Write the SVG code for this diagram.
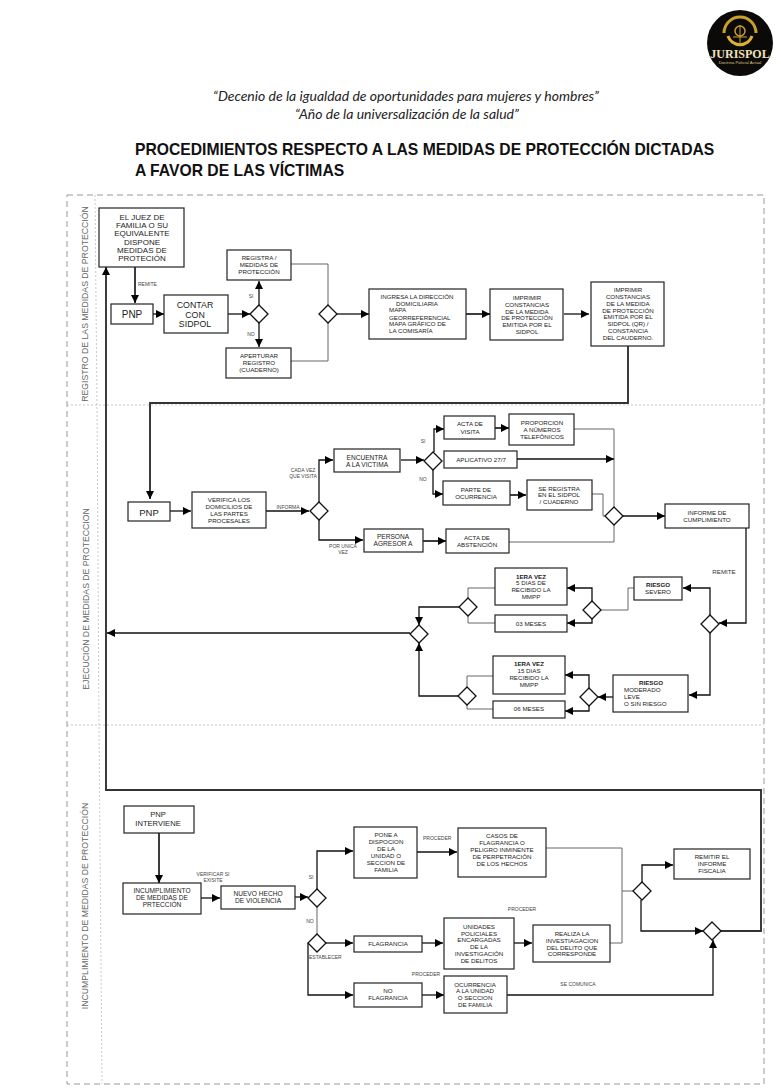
<svg xmlns="http://www.w3.org/2000/svg" width="781" height="1091" viewBox="0 0 781 1091">
<style>
text{font-family:"Liberation Sans",Arial,sans-serif;fill:#222;text-anchor:middle}
.b{fill:#fff;stroke:#222;stroke-width:1.2}
.d{fill:#fff;stroke:#111;stroke-width:1.3}
.c{fill:none;stroke:#111;stroke-width:1.3;marker-end:url(#a)}
.k{fill:none;stroke:#333;stroke-width:1.9;marker-end:url(#a)}
.g{fill:none;stroke:#666;stroke-width:1}
.s5{font-size:6.200px}.s6{font-size:6.600px}.s7{font-size:7.600px}
.l{font-size:5px;fill:#444}
.bo{font-weight:bold}
.lane{font-size:8.700px;fill:#666}
.st{text-anchor:start}
.o{fill:none;stroke:#999;stroke-width:1;stroke-dasharray:6 4}
.i{fill:none;stroke:#bbb;stroke-width:.8;stroke-dasharray:2 2}
.h{font-family:"Lato","Liberation Sans",sans-serif;font-style:italic;font-size:14px;fill:#222}
.t{font-size:15.700px;font-weight:bold;fill:#111;text-anchor:start}
</style>
<defs>
<marker id="a" markerUnits="userSpaceOnUse" markerWidth="9" markerHeight="8" refX="8" refY="4" orient="auto"><path d="M0 0L8 4L0 8Z" fill="#000"/></marker>
</defs>
<rect width="781" height="1091" fill="#fff"/>

<g id="logo">
<circle cx="740" cy="43" r="33" fill="#0c0a08"/>
<path d="M724 33A16 16 0 0 1 756 33" fill="none" stroke="#c9a02c" stroke-width="3"/>
<path d="M728 36A12.500 12 0 0 0 752 36" fill="none" stroke="#d9b23a" stroke-width="3"/>
<circle cx="740" cy="31" r="5" fill="none" stroke="#c9a02c" stroke-width="1.500"/>
<path d="M740 25V44M733 37H747" stroke="#c9a02c" stroke-width="1"/>
<text x="740" y="58" style="font-family:'Liberation Serif',serif;font-size:12px;font-weight:bold;fill:#efe3bd">JURISPOL</text>
<text x="740" y="64" style="font-size:4.200px;fill:#d9c688">Doctrina Policial Actual</text>
</g>

<g id="header">
<text class="h" x="406" y="101">“Decenio de la igualdad de oportunidades para mujeres y hombres”</text>
<text class="h" x="407" y="119">“Año de la universalización de la salud”</text>
<text class="t" x="135" y="155">PROCEDIMIENTOS RESPECTO A LAS MEDIDAS DE PROTECCIÓN DICTADAS</text>
<text class="t" x="135" y="176">A FAVOR DE LAS VÍCTIMAS</text>
</g>

<g id="lanes">
<rect class="o" x="67" y="195" width="697" height="889"/>
<path class="i" d="M95 195L97 405L99 725L102 1084M67 405H764M67 725H764"/>
<text class="lane" transform="translate(88 304) rotate(-90)">REGISTRO DE LAS MEDIDAS DE PROTECCIÓN</text>
<text class="lane" transform="translate(89 599) rotate(-90)">EJECUCIÓN DE MEDIDAS DE PROTECCION</text>
<text class="lane" transform="translate(88 906) rotate(-90)">INCUMPLIMIENTO DE MEDIDAS DE PROTECCIÓN</text>
</g>

<g id="connectors">
<path class="k" d="M135 267V303"/>
<path class="c" d="M153 314H164"/>
<path class="c" d="M228 314H250"/>
<path class="c" d="M259 305V281"/>
<path class="c" d="M259 323V347"/>
<path class="g" d="M291 264H328V305M291 361H328V323"/>
<path class="c" d="M337 314H369"/>
<path class="k" d="M466 314H490"/>
<path class="c" d="M564 314H589"/>
<path class="k" d="M628 346V403H150V499"/>
<path class="c" d="M170 511H191"/>
<path class="c" d="M266 511H309"/>
<path class="c" d="M319 502V460H333"/>
<path class="c" d="M319 520V540H363"/>
<path class="c" d="M401 460H424"/>
<path class="c" d="M434 452V429H444"/>
<path class="k" d="M495 428H509"/>
<path class="g" d="M574 429H614V507"/>
<path class="c" d="M517 459H614"/>
<path class="c" d="M433 470V494H443"/>
<path class="k" d="M510 495H526"/>
<path class="g" d="M592 494H603V516H605"/>
<path class="k" d="M423 541H446"/>
<path class="g" d="M509 542H614V525"/>
<path class="c" d="M623 516H665"/>
<path class="c" d="M746 528V623H719"/>
<path class="c" d="M710 615V588H683"/>
<path class="g" d="M634 588H628V610H601"/>
<path class="c" d="M592 601V588H567"/>
<path class="c" d="M592 619V623H567"/>
<path class="g" d="M495 588H468V598M495 623H468V616"/>
<path class="c" d="M459 607H419V625"/>
<path class="c" d="M710 633V695H689"/>
<path class="c" d="M613 697H598"/>
<path class="c" d="M589 688V675H565"/>
<path class="c" d="M589 706V711H565"/>
<path class="g" d="M493 676H467V687M493 709H467V705"/>
<path class="c" d="M458 696H419V643"/>
<path class="c" d="M410 633H107"/>
<path class="k" d="M159 833V883"/>
<path class="c" d="M201 898H220"/>
<path class="c" d="M295 897H308"/>
<path class="c" d="M317 889V851H353"/>
<path class="g" d="M317 907V934"/>
<path class="c" d="M326 943H353"/>
<path class="c" d="M308 943V995H353"/>
<path class="c" d="M417 852H457"/>
<path class="g" d="M546 848H622V943H610M622 891H633"/>
<path class="c" d="M422 943H443"/>
<path class="c" d="M514 943H532"/>
<path class="c" d="M422 995H444"/>
<path class="c" d="M507 995H713V940"/>
<path class="c" d="M642 882V865H673"/>
<path class="c" d="M641 900V931H703"/>
<path class="k" d="M721 931H761V790H106V267"/>
</g>

<g id="n-juez"><rect class="b" x="99" y="208" width="85" height="59"/><text style="font-size:8px"><tspan x="142" y="219.800">EL JUEZ DE</tspan><tspan x="142" y="227.800">FAMILIA O SU</tspan><tspan x="142" y="235.800">EQUIVALENTE</tspan><tspan x="142" y="244.800">DISPONE</tspan><tspan x="142" y="252.800">MEDIDAS DE</tspan><tspan x="142" y="260.800">PROTECIÓN</tspan></text></g>
<g id="n-pnp1"><rect class="b" x="111" y="304" width="42" height="20"/><text x="132" y="318" style="font-size:10px">PNP</text></g>
<g id="n-contar"><rect class="b" x="164" y="295" width="64" height="38"/><text style="font-size:8.800px"><tspan x="195" y="308">CONTAR</tspan><tspan x="195" y="317.500">CON</tspan><tspan x="195" y="327">SIDPOL</tspan></text></g>
<g id="n-d1"><path class="d" d="M259 305L268 314L259 323L250 314Z"/></g>
<g id="n-registra"><rect class="b" x="227" y="250" width="64" height="30"/><text class="s5"><tspan x="259" y="260">REGISTRA /</tspan><tspan x="259" y="267">MEDIDAS DE</tspan><tspan x="259" y="274">PROTECCIÓN</tspan></text></g>
<g id="n-aperturar"><rect class="b" x="226" y="348" width="65" height="30"/><text class="s5"><tspan x="259" y="358">APERTURAR</tspan><tspan x="259" y="365">REGISTRO</tspan><tspan x="259" y="372">(CUADERNO)</tspan></text></g>
<g id="n-d2"><path class="d" d="M328 305L337 314L328 323L319 314Z"/></g>
<g id="n-ingresa"><rect class="b" x="369" y="289" width="97" height="50"/><text class="s5"><tspan x="417" y="299">INGRESA LA DIRECCIÓN</tspan><tspan x="417" y="306">DOMICILIARIA</tspan></text><text class="s5 st"><tspan x="389" y="312">MAPA</tspan><tspan x="389" y="319.500">GEORREFERENCIAL</tspan><tspan x="389" y="326">MAPA GRÁFICO DE</tspan><tspan x="389" y="333">LA COMISARÍA</tspan></text></g>
<g id="n-imp1"><rect class="b" x="490" y="289" width="73" height="51"/><text class="s5"><tspan x="527" y="300">IMPRIMIR</tspan><tspan x="527" y="307">CONSTANCIAS</tspan><tspan x="527" y="313.500">DE LA MEDIDA</tspan><tspan x="527" y="320">DE PROTECCIÓN</tspan><tspan x="527" y="327">EMITIDA POR EL</tspan><tspan x="527" y="334">SIDPOL</tspan></text></g>
<g id="n-imp2"><rect class="b" x="591" y="282" width="73" height="64"/><text class="s5"><tspan x="628" y="292">IMPRIMIR</tspan><tspan x="628" y="299">CONSTANCIAS</tspan><tspan x="628" y="306">DE LA MEDIDA</tspan><tspan x="628" y="313">DE PROTECCIÓN</tspan><tspan x="628" y="319">EMITIDA POR EL</tspan><tspan x="628" y="326">SIDPOL (QR) /</tspan><tspan x="628" y="333">CONSTANCIA</tspan><tspan x="628" y="340">DEL CAUDERNO.</tspan></text></g>

<g id="n-pnp2"><rect class="b" x="128" y="502" width="42" height="19"/><text x="149" y="515.500" style="font-size:9.500px">PNP</text></g>
<g id="n-verifica"><rect class="b" x="192" y="492" width="74" height="36"/><text class="s5"><tspan x="229" y="502">VERIFICA LOS</tspan><tspan x="229" y="509">DOMICILIOS DE</tspan><tspan x="229" y="516">LAS PARTES</tspan><tspan x="229" y="523">PROCESALES</tspan></text></g>
<g id="n-d3"><path class="d" d="M319 502L328 511L319 520L310 511Z"/></g>
<g id="n-encuentra"><rect class="b" x="334" y="449" width="66" height="23"/><text class="s6"><tspan x="367" y="460">ENCUENTRA</tspan><tspan x="367" y="467">A LA VICTIMA</tspan></text></g>
<g id="n-persona"><rect class="b" x="364" y="529" width="59" height="23"/><text class="s6"><tspan x="393" y="539">PERSONA</tspan><tspan x="393" y="546">AGRESOR A</tspan></text></g>
<g id="n-d4"><path class="d" d="M433 452L442 461L433 470L424 461Z"/></g>
<g id="n-acta"><rect class="b" x="444" y="416" width="51" height="23"/><text class="s5"><tspan x="470" y="426">ACTA DE</tspan><tspan x="470" y="433.500">VISITA</tspan></text></g>
<g id="n-proporcion"><rect class="b" x="509" y="414" width="65" height="31"/><text class="s5"><tspan x="542" y="425">PROPORCION</tspan><tspan x="542" y="431.500">A NÚMEROS</tspan><tspan x="542" y="438.500">TELEFÓNICOS</tspan></text></g>
<g id="n-aplicativo"><rect class="b" x="444" y="451" width="73" height="17"/><text class="s5" x="481" y="462">APLICATIVO 27/7</text></g>
<g id="n-parte"><rect class="b" x="443" y="481" width="67" height="24"/><text class="s5"><tspan x="476" y="492">PARTE DE</tspan><tspan x="476" y="499">OCURRENCIA</tspan></text></g>
<g id="n-seregistra"><rect class="b" x="527" y="480" width="65" height="30"/><text class="s5"><tspan x="559" y="490.500">SE REGISTRA</tspan><tspan x="559" y="497">EN EL SIDPOL</tspan><tspan x="559" y="504">/ CUADERNO</tspan></text></g>
<g id="n-abstencion"><rect class="b" x="446" y="529" width="63" height="24"/><text class="s5"><tspan x="477" y="539.500">ACTA DE</tspan><tspan x="477" y="546.500">ABSTENCIÓN</tspan></text></g>
<g id="n-d5"><path class="d" d="M614 507L623 516L614 525L605 516Z"/></g>
<g id="n-informe"><rect class="b" x="665" y="504" width="84" height="24"/><text class="s5"><tspan x="707" y="515">INFORME DE</tspan><tspan x="707" y="521.500">CUMPLIMIENTO</tspan></text></g>
<g id="n-d6"><path class="d" d="M710 615L719 624L710 633L701 624Z"/></g>
<g id="n-severo"><rect class="b" x="634" y="577" width="48" height="23"/><text class="s5"><tspan class="bo" x="658" y="587">RIESGO</tspan><tspan x="658" y="594">SEVERO</tspan></text></g>
<g id="n-d7"><path class="d" d="M592 601L601 610L592 619L583 610Z"/></g>
<g id="n-1era1"><rect class="b" x="495" y="568" width="72" height="37"/><text class="s5"><tspan class="bo" x="531" y="578.500">1ERA VEZ</tspan><tspan x="531" y="585">5 DIAS  DE</tspan><tspan x="531" y="592">RECIBIDO LA</tspan><tspan x="531" y="599">MMPP</tspan></text></g>
<g id="n-03"><rect class="b" x="495" y="615" width="72" height="17"/><text class="s5" x="531" y="626">03 MESES</text></g>
<g id="n-d8"><path class="d" d="M468 598L477 607L468 616L459 607Z"/></g>
<g id="n-d9"><path class="d" d="M419 625L428 634L419 643L410 634Z"/></g>
<g id="n-moderado"><rect class="b" x="613" y="675" width="75" height="37"/><text class="s5 bo" x="651" y="685">RIESGO</text><text class="s5 st"><tspan x="624" y="692">MODERADO</tspan><tspan x="624" y="699">LEVE</tspan><tspan x="624" y="706">O SIN RIESGO</tspan></text></g>
<g id="n-d10"><path class="d" d="M589 688L598 697L589 706L580 697Z"/></g>
<g id="n-1era2"><rect class="b" x="493" y="656" width="72" height="38"/><text class="s5"><tspan class="bo" x="529" y="666">1ERA VEZ</tspan><tspan x="529" y="673">15 DIAS</tspan><tspan x="529" y="680">RECIBIDO LA</tspan><tspan x="529" y="686.500">MMPP</tspan></text></g>
<g id="n-06"><rect class="b" x="493" y="701" width="72" height="17"/><text class="s5" x="529" y="711">06 MESES</text></g>
<g id="n-d11"><path class="d" d="M467 687L476 696L467 705L458 696Z"/></g>

<g id="n-interviene"><rect class="b" x="124" y="806" width="70" height="27"/><text class="s7"><tspan x="158" y="817">PNP</tspan><tspan x="158" y="825.500">INTERVIENE</tspan></text></g>
<g id="n-incumplimiento"><rect class="b" x="123" y="883" width="78" height="31"/><text class="s6"><tspan x="162" y="893">INCUMPLIMIENTO</tspan><tspan x="162" y="900">DE MEDIDAS DE</tspan><tspan x="162" y="907">PRTECCIÓN</tspan></text></g>
<g id="n-nuevo"><rect class="b" x="221" y="886" width="74" height="23"/><text class="s6"><tspan x="258" y="896">NUEVO HECHO</tspan><tspan x="258" y="903">DE VIOLENCIA</tspan></text></g>
<g id="n-d12"><path class="d" d="M317 889L326 898L317 907L308 898Z"/></g>
<g id="n-d13"><path class="d" d="M317 934L326 943L317 952L308 943Z"/></g>
<g id="n-pone"><rect class="b" x="354" y="827" width="63" height="51"/><text class="s5"><tspan x="386" y="837">PONE A</tspan><tspan x="386" y="844">DISPOCION</tspan><tspan x="386" y="851">DE LA</tspan><tspan x="386" y="858">UNIDAD O</tspan><tspan x="386" y="865">SECCION DE</tspan><tspan x="386" y="871.500">FAMILIA</tspan></text></g>
<g id="n-flagrancia"><rect class="b" x="354" y="936" width="68" height="16"/><text class="s5" x="388" y="946">FLAGRANCIA</text></g>
<g id="n-noflag"><rect class="b" x="354" y="983" width="68" height="24"/><text class="s5"><tspan x="388" y="993">NO</tspan><tspan x="388" y="1000">FLAGRANCIA</tspan></text></g>
<g id="n-casos"><rect class="b" x="458" y="828" width="88" height="49"/><text class="s5"><tspan x="502" y="838">CASOS DE</tspan><tspan x="502" y="845">FLAGRANCIA O</tspan><tspan x="502" y="852">PELIGRO INMINENTE</tspan><tspan x="502" y="858.500">DE PERPETRACIÓN</tspan><tspan x="502" y="865.500">DE LOS HECHOS</tspan></text></g>
<g id="n-unidades"><rect class="b" x="444" y="918" width="70" height="51"/><text class="s5"><tspan x="479" y="929">UNIDADES</tspan><tspan x="479" y="936">POLICIALES</tspan><tspan x="479" y="942">ENCARGADAS</tspan><tspan x="479" y="949">DE LA</tspan><tspan x="479" y="956">INVESTIGACIÓN</tspan><tspan x="479" y="963">DE DELITOS</tspan></text></g>
<g id="n-realiza"><rect class="b" x="533" y="925" width="77" height="37"/><text class="s5"><tspan x="572" y="936">REALIZA LA</tspan><tspan x="572" y="942.500">INVESTIAGACION</tspan><tspan x="572" y="949.500">DEL DELITO QUE</tspan><tspan x="572" y="956">CORRESPONDE</tspan></text></g>
<g id="n-ocurrencia"><rect class="b" x="444" y="976" width="63" height="37"/><text class="s5"><tspan x="475" y="986.500">OCURRENCIA</tspan><tspan x="475" y="993">A LA UNIDAD</tspan><tspan x="475" y="1000">O SECCION</tspan><tspan x="475" y="1007">DE FAMILIA</tspan></text></g>
<g id="n-d14"><path class="d" d="M642 882L651 891L642 900L633 891Z"/></g>
<g id="n-remitir"><rect class="b" x="674" y="849" width="76" height="30"/><text class="s5"><tspan x="712" y="859">REMITIR EL</tspan><tspan x="712" y="866">INFORME</tspan><tspan x="712" y="873">FISCALIA</tspan></text></g>
<g id="n-d15"><path class="d" d="M712 922L721 931L712 940L703 931Z"/></g>

<g id="labels">
<text class="l st" x="138" y="286">REMITE</text>
<text class="l" x="251" y="298">SI</text>
<text class="l" x="251" y="336">NO</text>
<text class="l"><tspan x="303" y="472">CADA VEZ</tspan><tspan x="303" y="477.500">QUE VISITA</tspan></text>
<text class="l" x="288" y="509">INFORMA</text>
<text class="l"><tspan x="343" y="548">POR UNICA</tspan><tspan x="343" y="553.500">VEZ</tspan></text>
<text class="l" x="423" y="443">SI</text>
<text class="l" x="423" y="481">NO</text>
<text class="s5" x="724" y="574" style="fill:#333">REMITE</text>
<text class="l"><tspan x="213" y="876">VERIFICAR SI</tspan><tspan x="213" y="881.500">EXISITE</tspan></text>
<text class="l st" x="423" y="840">PROCEDER</text>
<text class="l" x="311" y="879">SI</text>
<text class="l" x="310" y="923">NO</text>
<text class="l st" x="309" y="959">ESTABLECER</text>
<text class="l" x="522" y="911">PROCEDER</text>
<text class="l" x="426" y="976">PROCEDER</text>
<text class="l" x="578" y="986">SE COMUNICA</text>
</g>
</svg>
